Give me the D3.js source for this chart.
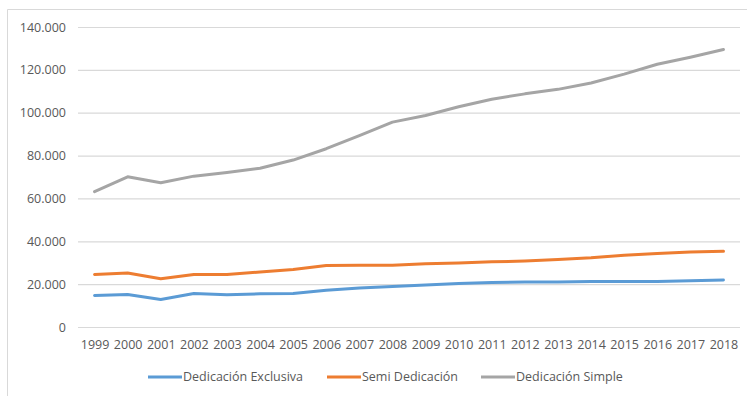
<!DOCTYPE html>
<html>
<head>
<meta charset="utf-8">
<script src="https://cdn.jsdelivr.net/npm/d3@7"></script>
<style>
  html, body { margin: 0; padding: 0; background: #fff; }
  svg { display: block; }
  text { font-family: "Open Sans", "Liberation Sans", sans-serif; fill: #595959; }
</style>
</head>
<body>
<svg id="chart" width="747" height="396"></svg>
<script>
// Docentes universitarios por dedicación, 1999-2018
const years = ["1999","2000","2001","2002","2003","2004","2005","2006","2007","2008",
               "2009","2010","2011","2012","2013","2014","2015","2016","2017","2018"];
const exclusiva = [14700, 15200, 12800, 15600, 15000, 15500, 15600, 17200, 18200, 18900,
                   19600, 20300, 20800, 21000, 21000, 21200, 21200, 21200, 21600, 21900];
const semi = [24500, 25200, 22500, 24500, 24500, 25700, 26800, 28700, 28800, 28800,
              29500, 29900, 30400, 30800, 31500, 32300, 33500, 34300, 35000, 35300];
const simple = [63200, 70100, 67300, 70400, 72100, 74100, 77900, 83200, 89300, 95600,
                98700, 102800, 106300, 108800, 110900, 113900, 118000, 122600, 125900, 129500];
const yTicks = [0, 20000, 40000, 60000, 80000, 100000, 120000, 140000];
const seriesNames = ["Dedicación Exclusiva", "Semi Dedicación", "Dedicación Simple"];
const seriesColors = ["#5b9bd5", "#ed7d31", "#a5a5a5"];

const series = [exclusiva, semi, simple].map((values, i) => ({
  name: seriesNames[i], color: seriesColors[i], values
}));

const svg = d3.select("#chart");

// outer chart frame (top and left edges visible)
svg.append("path")
  .attr("d", "M7.5,396 V9.5 H747")
  .attr("fill", "none")
  .attr("stroke", "#d9d9d9")
  .attr("stroke-width", 1);

const plot = { left: 78, right: 740, top: 27, bottom: 327 };

const x = d3.scalePoint().domain(years).range([plot.left, plot.right]).padding(0.5);
const y = d3.scaleLinear().domain([0, 140000]).range([plot.bottom, plot.top]);

const fmt = v => v === 0 ? "0" : d3.format(",.3f")(v / 1000).replace(/,/g, "").replace(".", ".");

// horizontal gridlines
const yAxis = d3.axisLeft(y).tickValues(yTicks)
  .tickSize(-(plot.right - plot.left))
  .tickPadding(12)
  .tickFormat(v => v === 0 ? "0" : (v / 1000).toFixed(0) + ".000");

const gy = svg.append("g").attr("transform", `translate(${plot.left},0)`).call(yAxis);
gy.select(".domain").remove();
gy.selectAll(".tick line").attr("stroke", "#d9d9d9").attr("stroke-width", 1.2);
gy.selectAll(".tick text").attr("font-size", 12.5).attr("fill", "#595959");

// year labels
const xAxis = d3.axisBottom(x).tickSize(0).tickPadding(13);
const gx = svg.append("g").attr("transform", `translate(0,${plot.bottom})`).call(xAxis);
gx.select(".domain").remove();
gx.selectAll(".tick text").attr("font-size", 12.5).attr("fill", "#595959");

// series lines
const line = d3.line()
  .x((d, i) => x(years[i]))
  .y(d => y(d));

svg.append("g").selectAll("path")
  .data(series)
  .join("path")
  .attr("d", d => line(d.values))
  .attr("fill", "none")
  .attr("stroke", d => d.color)
  .attr("stroke-width", 3)
  .attr("stroke-linejoin", "round")
  .attr("stroke-linecap", "round");

// legend
const legendX = [148, 327, 481];
const legend = svg.append("g").attr("transform", "translate(0,377)");
const items = legend.selectAll("g").data(series).join("g")
  .attr("transform", (d, i) => `translate(${legendX[i]},0)`);
items.append("line")
  .attr("x1", 0).attr("x2", 34).attr("y1", 0).attr("y2", 0)
  .attr("stroke", d => d.color).attr("stroke-width", 3);
items.append("text")
  .attr("x", 35).attr("y", 0).attr("dy", "0.35em")
  .attr("font-size", 12.5)
  .text(d => d.name);
</script>
</body>
</html>
